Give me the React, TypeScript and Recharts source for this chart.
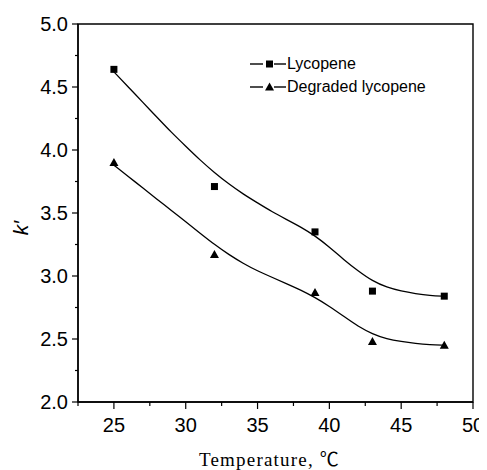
import React from "react";
import {
  ComposedChart, Line, Scatter, XAxis, YAxis, ReferenceArea, Legend, Label,
} from "recharts";

// measured points
const temps = [25, 32, 39, 43, 48];
const lycopene = [4.64, 3.71, 3.35, 2.88, 2.84];
const degraded = [3.90, 3.17, 2.87, 2.48, 2.45];

// fitted curves
const fitTemps = [25, 26, 27, 28, 29, 30, 31, 32, 33, 34, 35, 36, 37, 38, 39, 40, 41, 42, 43, 44, 45, 46, 47, 48];
const lycopeneFit = [4.62, 4.50, 4.38, 4.26, 4.14, 4.03, 3.92, 3.82, 3.73, 3.65, 3.58, 3.51, 3.45, 3.39, 3.32, 3.23, 3.13, 3.04, 2.96, 2.91, 2.88, 2.86, 2.845, 2.84];
const degradedFit = [3.88, 3.79, 3.70, 3.61, 3.52, 3.43, 3.34, 3.25, 3.17, 3.10, 3.04, 2.99, 2.94, 2.89, 2.83, 2.76, 2.68, 2.60, 2.54, 2.50, 2.48, 2.465, 2.455, 2.45];

const xTicks = [22.5, 25, 27.5, 30, 32.5, 35, 37.5, 40, 42.5, 45, 47.5, 50];
const yTicks = [2, 2.25, 2.5, 2.75, 3, 3.25, 3.5, 3.75, 4, 4.25, 4.5, 4.75, 5];

const seriesNames = ["Lycopene", "Degraded lycopene"];

const toRows = (xs: number[], ys: number[]) => xs.map((t, i) => ({ t, k: ys[i] }));

const lycPts = toRows(temps, lycopene);
const degPts = toRows(temps, degraded);
const lycFit = toRows(fitTemps, lycopeneFit);
const degFit = toRows(fitTemps, degradedFit);

const sans = "'Liberation Sans', Arial, sans-serif";

const YTick = (props: any) => {
  const { x, y, payload } = props;
  const v = payload.value;
  const major = Math.abs(v * 2 - Math.round(v * 2)) < 1e-6;
  return (
    <g>
      <line x1={x - (major ? 6 : 3)} x2={x} y1={y} y2={y} stroke="#000" strokeWidth={1.2} />
      {major && (
        <text x={x - 10} y={y} textAnchor="end" dominantBaseline="central"
          fontFamily={sans} fontSize={20} fill="#000">
          {v.toFixed(1)}
        </text>
      )}
    </g>
  );
};

const XTick = (props: any) => {
  const { x, y, payload } = props;
  const v = payload.value;
  const major = Number.isInteger(v) && v % 5 === 0;
  return (
    <g>
      <line x1={x} x2={x} y1={y} y2={y + (major ? 7 : 4)} stroke="#000" strokeWidth={1.2} />
      {major && (
        <text x={x} y={y + 23} textAnchor="middle" dominantBaseline="central"
          fontFamily={sans} fontSize={20} fill="#000">
          {v}
        </text>
      )}
    </g>
  );
};

const SquareDot = (props: any) => {
  const { cx, cy } = props;
  return <rect x={cx - 3.5} y={cy - 3.5} width={7} height={7} fill="#000" />;
};

const TriangleDot = (props: any) => {
  const { cx, cy } = props;
  return <polygon points={`${cx},${cy - 4.5} ${cx + 4.5},${cy + 3.5} ${cx - 4.5},${cy + 3.5}`} fill="#000" />;
};

const LegendBox = () => (
  <div style={{ fontFamily: sans, fontSize: 16, color: "#000" }}>
    {seriesNames.map((name, i) => (
      <div key={name} style={{ display: "flex", alignItems: "center", height: 23 }}>
        <svg width={36} height={14} style={{ marginRight: 1 }}>
          <line x1={0} x2={13} y1={7} y2={7} stroke="#000" strokeWidth={1.4} />
          <line x1={24} x2={36} y1={7} y2={7} stroke="#000" strokeWidth={1.4} />
          {i === 0
            ? <rect x={16} y={3.5} width={7} height={7} fill="#000" />
            : <polygon points="19.5,2.5 24,10.5 15,10.5" fill="#000" />}
        </svg>
        <span>{name}</span>
      </div>
    ))}
  </div>
);

const YLabel = (props: any) => {
  const { viewBox } = props;
  const x = viewBox.x + 12;
  const y = viewBox.y + viewBox.height / 2 + 15;
  return (
    <text x={x} y={y} transform={`rotate(-90, ${x}, ${y})`} textAnchor="middle"
      dominantBaseline="central" fontFamily={sans} fontStyle="italic" fontSize={21} fill="#000">
      k′
    </text>
  );
};

const XLabel = (props: any) => {
  const { viewBox } = props;
  const x = viewBox.x + viewBox.width / 2 - 6;
  const y = viewBox.y + 64;
  return (
    <text x={x} y={y} textAnchor="middle" fontFamily="'Liberation Serif', 'Noto Sans CJK SC', serif"
      fontSize={19} letterSpacing={1.2} fill="#000">
      Temperature, ℃
    </text>
  );
};

export default function App() {
  return (
    <div style={{ width: 479, height: 462, background: "#fff" }}>
      <ComposedChart width={479} height={462} margin={{ top: 16, right: 14, left: 0, bottom: 0 }}>
        <XAxis type="number" dataKey="t" domain={[22.5, 50]} ticks={xTicks} interval={0}
          height={68} tickSize={0} tickMargin={0} tickLine={false} tick={<XTick />}
          axisLine={{ stroke: "#000", strokeWidth: 1.4 }} allowDataOverflow>
          <Label content={<XLabel />} />
        </XAxis>
        <YAxis type="number" dataKey="k" domain={[2, 5]} ticks={yTicks} interval={0}
          width={70} tickSize={0} tickMargin={0} tickLine={false} tick={<YTick />}
          axisLine={{ stroke: "#000", strokeWidth: 1.4 }} allowDataOverflow>
          <Label content={<YLabel />} />
        </YAxis>
        <ReferenceArea x1={22.5} x2={50} y1={2} y2={5} fill="none" stroke="#000" strokeWidth={1.4} fillOpacity={0} />
        <Line data={lycFit} dataKey="k" type="basis" stroke="#000" strokeWidth={1.3}
          dot={false} activeDot={false} isAnimationActive={false} legendType="none" />
        <Line data={degFit} dataKey="k" type="basis" stroke="#000" strokeWidth={1.3}
          dot={false} activeDot={false} isAnimationActive={false} legendType="none" />
        <Scatter data={lycPts} shape={<SquareDot />} isAnimationActive={false} name={seriesNames[0]} />
        <Scatter data={degPts} shape={<TriangleDot />} isAnimationActive={false} name={seriesNames[1]} />
        <Legend layout="vertical" align="center" verticalAlign="middle" content={<LegendBox />}
          wrapperStyle={{ top: 44, left: 242, width: 200, height: 50 }} />
      </ComposedChart>
    </div>
  );
}
